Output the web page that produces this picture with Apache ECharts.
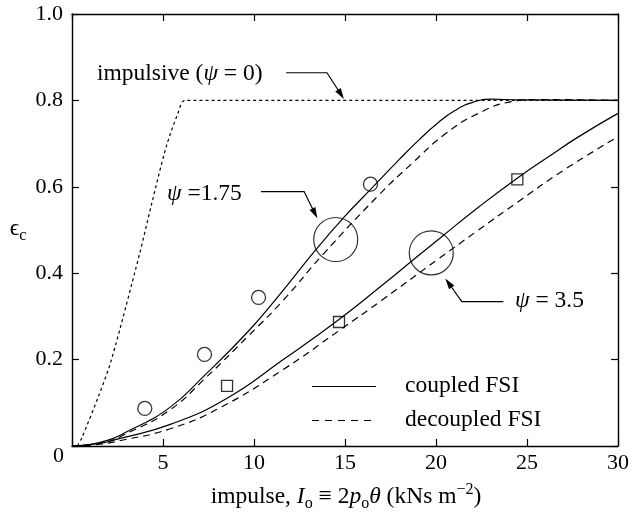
<!DOCTYPE html>
<html>
<head>
<meta charset="utf-8">
<script src="https://cdn.jsdelivr.net/npm/echarts@6/dist/echarts.min.js"></script>
<style>
  html, body { margin: 0; padding: 0; background: #fff; }
  #main { width: 632px; height: 512px; }
</style>
</head>
<body>
<div id="main"></div>
<script>
// values: [impulse (kNs m^-2), eps_c]
var impulsive = [[0.3, 0], [0.55, 0.02], [1.5, 0.12], [2.17, 0.2], [3.72, 0.446], [4.36, 0.558],
  [5.18, 0.693], [5.82, 0.77], [6.2, 0.8], [8, 0.8], [30, 0.8]];
var coupled175 = [[0, 0], [1.5, 0.008], [3.2, 0.037], [5.4, 0.09], [7.2, 0.16], [9.74, 0.268],
  [11.4, 0.35], [13.39, 0.454], [15.0, 0.532], [16.5, 0.598], [18.0, 0.664], [19.05, 0.708],
  [20.05, 0.746], [21.06, 0.777], [22.06, 0.796], [23.06, 0.803], [24.5, 0.801], [30, 0.8]];
var decoupled175 = [[0, 0], [1.5, 0.006], [3.2, 0.033], [5.4, 0.084], [7.2, 0.152], [9.74, 0.257],
  [11.6, 0.337], [13.76, 0.442], [16.86, 0.581], [18.68, 0.654], [20.5, 0.722], [22.33, 0.77],
  [24.15, 0.797], [25.5, 0.802], [30, 0.8]];
var coupled35 = [[0, 0], [1.5, 0.006], [2.6, 0.017], [5.4, 0.05], [8.5, 0.11], [11.57, 0.199],
  [14.67, 0.293], [17.04, 0.372], [18.87, 0.435], [20.3, 0.484], [22.4, 0.555], [24.5, 0.621],
  [26.2, 0.67], [27.8, 0.715], [30, 0.77]];
var decoupled35 = [[0, 0], [1.5, 0.004], [2.6, 0.012], [5.4, 0.04], [8.1, 0.088], [11.57, 0.176],
  [14.67, 0.267], [17.04, 0.338], [20.1, 0.432], [22.3, 0.499], [24.5, 0.565], [27, 0.638],
  [30, 0.716]];
// experiments
var expCircles = [[4.0, 0.087], [7.28, 0.212], [10.25, 0.344], [16.4, 0.606]];
var expSquares = [[8.52, 0.139], [14.67, 0.287], [24.47, 0.617]];
// annotation rings and leader arrows (data coords)
var rings = [[14.49, 0.478], [19.74, 0.447]];
var leaders = [
  [[11.77, 0.864], [14.01, 0.864], [14.94, 0.803]],
  [[10.38, 0.589], [12.75, 0.589], [13.48, 0.527]],
  [[23.7, 0.334], [21.42, 0.334], [20.51, 0.388]]
];
var xTicks = [5, 10, 15, 20, 25, 30];
var yTicks = ['0.2', '0.4', '0.6', '0.8', '1.0'];

var FONT = 'Liberation Serif';
var FS = 23.5;
var chart = echarts.init(document.getElementById('main'));

function axisBase(extra) {
  var a = {
    type: 'value',
    axisLine: { show: true, onZero: false, lineStyle: { color: '#000', width: 1.4 } },
    axisTick: { show: true, inside: true, length: 7, lineStyle: { color: '#000', width: 1.2 } },
    splitLine: { show: false }
  };
  for (var k in extra) a[k] = extra[k];
  return a;
}

var lineS = function (name, data, type) {
  return {
    name: name, type: 'line', data: data, showSymbol: false, smooth: type === 'dot' ? 0.3 : 0.5,
    lineStyle: { color: '#000', width: 1.2, type: type === 'dot' ? [3, 3] : (type === 'dash' ? [7, 5] : 'solid') },
    z: 3
  };
};

chart.setOption({
  animation: false,
  grid: { left: 72, right: 12, top: 14, bottom: 66 },
  xAxis: [
    axisBase({
      min: 0, max: 30, interval: 5, position: 'bottom',
      axisLabel: {
        margin: 6, fontSize: 22, fontFamily: FONT, color: '#000',
        formatter: function (v) { return xTicks.indexOf(v) >= 0 ? String(v) : ''; }
      }
    }),
    axisBase({ min: 0, max: 30, interval: 5, position: 'top', axisLabel: { show: false } })
  ],
  yAxis: [
    axisBase({
      min: 0, max: 1, interval: 0.2, position: 'left',
      axisLabel: {
        margin: 9, fontSize: 22, fontFamily: FONT, color: '#000',
        formatter: function (v) { var s = v.toFixed(1); return yTicks.indexOf(s) >= 0 ? s : ''; }
      }
    }),
    axisBase({ min: 0, max: 1, interval: 0.2, position: 'right', axisLabel: { show: false } })
  ],
  series: [
    lineS('impulsive', impulsive, 'dot'),
    lineS('coupled 1.75', coupled175, 'solid'),
    lineS('decoupled 1.75', decoupled175, 'dash'),
    lineS('coupled 3.5', coupled35, 'solid'),
    lineS('decoupled 3.5', decoupled35, 'dash'),
    {
      type: 'scatter', data: expCircles, symbol: 'circle', symbolSize: 14, z: 4,
      itemStyle: { color: 'rgba(0,0,0,0)', borderColor: '#000', borderWidth: 1.3 }
    },
    {
      type: 'scatter', data: expSquares, symbol: 'rect', symbolSize: 11, z: 4,
      itemStyle: { color: 'rgba(0,0,0,0)', borderColor: '#000', borderWidth: 1.3 }
    },
    {
      type: 'scatter', data: rings, symbol: 'circle', symbolSize: 44, z: 4,
      itemStyle: { color: 'rgba(0,0,0,0)', borderColor: '#000', borderWidth: 1.2 }
    }
  ]
});

// leader lines + arrowheads
var graphics = [];
leaders.forEach(function (pts) {
  var px = pts.map(function (p) { return chart.convertToPixel({ gridIndex: 0 }, p); });
  var tip = px[px.length - 1], prev = px[px.length - 2];
  var dx = tip[0] - prev[0], dy = tip[1] - prev[1];
  var len = Math.sqrt(dx * dx + dy * dy);
  var ux = dx / len, uy = dy / len;
  var L = 11, W = 3.2;
  var bx = tip[0] - ux * L, by = tip[1] - uy * L;
  var line = px.slice(0, -1).concat([[bx + ux * 2, by + uy * 2]]);
  graphics.push({ type: 'polyline', shape: { points: line }, style: { stroke: '#000', lineWidth: 1.2, fill: null }, z: 10 });
  graphics.push({
    type: 'polygon',
    shape: { points: [tip, [bx - uy * W, by + ux * W], [bx + uy * W, by - ux * W]] },
    style: { fill: '#000' }, z: 10
  });
});

var rich = {
  i: { fontStyle: 'italic', fontSize: FS, fontFamily: FONT, lineHeight: 30 },
  sub: { fontSize: 16, fontFamily: FONT, lineHeight: 16, verticalAlign: 'bottom' },
  sup: { fontSize: 16, fontFamily: FONT, lineHeight: 16, verticalAlign: 'top' }
};
function txt(x, y, text, align, size) {
  return {
    type: 'text', x: x, y: y, z: 10,
    style: {
      text: text, rich: rich, fontSize: size || FS, fontFamily: FONT, fill: '#000', lineHeight: 30,
      align: align || 'left', verticalAlign: 'middle'
    }
  };
}
graphics.push(txt(97, 74, 'impulsive ({i|ψ} = 0)'));
graphics.push(txt(167, 194, '{i|ψ} =1.75'));
graphics.push(txt(515, 301, '{i|ψ} = 3.5'));
graphics.push(txt(405, 386, 'coupled FSI'));
graphics.push(txt(405, 420, 'decoupled FSI'));
graphics.push(txt(64, 456, '0', 'right', 22));
graphics.push(txt(346, 497, 'impulse, {i|I}{sub|o} ≡ 2{i|p}{sub|o}{i|θ} (kNs m{sup|−2})', 'center'));
graphics.push(txt(18, 229, 'ϵ{sub|c}', 'center'));
// legend samples
graphics.push({ type: 'line', shape: { x1: 312, y1: 386.5, x2: 376, y2: 386.5 }, style: { stroke: '#000', lineWidth: 1.2 }, z: 10 });
graphics.push({ type: 'line', shape: { x1: 312, y1: 420.5, x2: 376, y2: 420.5 }, style: { stroke: '#000', lineWidth: 1.2, lineDash: [7, 6] }, z: 10 });

chart.setOption({ graphic: graphics });
</script>
</body>
</html>
